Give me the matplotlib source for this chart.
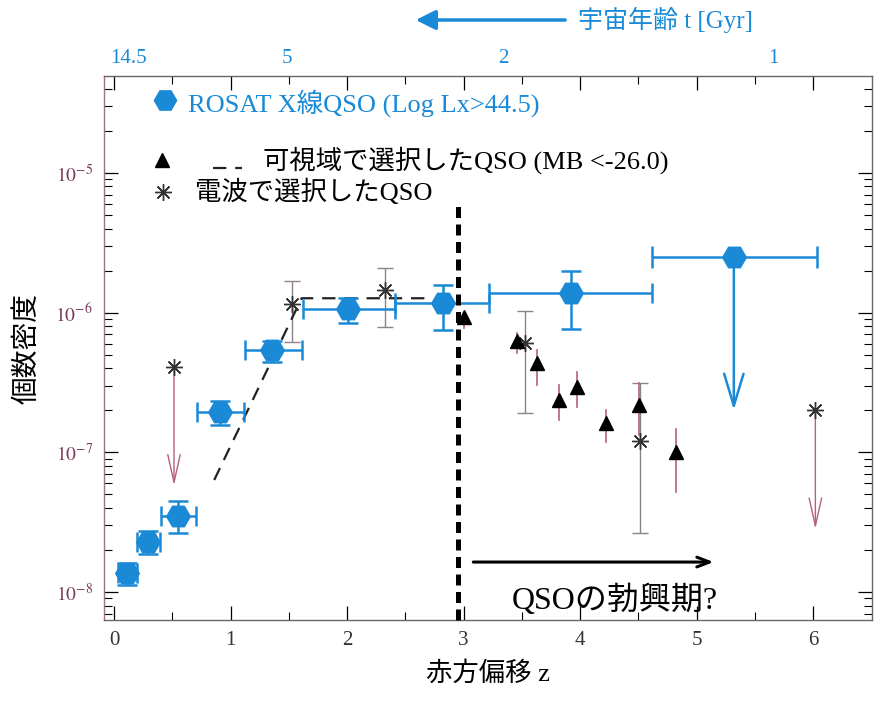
import math
import matplotlib
matplotlib.use("Agg")
import matplotlib.pyplot as plt
from matplotlib.ticker import FixedLocator, LogLocator, NullFormatter, FuncFormatter
import matplotlib.transforms as mtransforms

plt.rcParams['font.family'] = ['Liberation Serif', 'Noto Sans CJK JP', 'DejaVu Sans']
plt.rcParams['mathtext.fontset'] = 'stix'

BLUE = '#1a8ad6'
PINK = '#b5607f'
GREY = '#8c8288'

# ROSAT X-ray QSOs: redshift bins and space densities
x_z = [0.115, 0.295, 0.55, 0.91, 1.36, 2.01, 2.82, 3.92]
x_zlo = [0.035, 0.195, 0.40, 0.71, 1.12, 1.62, 2.41, 3.22]
x_zhi = [0.195, 0.395, 0.70, 1.115, 1.61, 2.41, 3.22, 4.62]
x_n = [1.36e-8, 2.27e-8, 3.52e-8, 1.95e-7, 5.41e-7, 1.06e-6, 1.17e-6, 1.38e-6]
x_nlo = [1.12e-8, 1.86e-8, 2.64e-8, 1.57e-7, 4.46e-7, 8.4e-7, 7.5e-7, 7.6e-7]
x_nhi = [1.62e-8, 2.75e-8, 4.49e-8, 2.34e-7, 6.27e-7, 1.27e-6, 1.58e-6, 2.0e-6]
# highest-redshift X-ray bin (upper limit)
xul_z, xul_zlo, xul_zhi = 5.32, 4.62, 6.03
xul_n, xul_to = 2.52e-6, 1.92e-7

# optically selected QSOs (MB < -26.0)
o_z = [3.00, 3.46, 3.63, 3.82, 3.97, 4.22, 4.51, 4.82]
o_n = [9.3e-7, 6.3e-7, 4.34e-7, 2.37e-7, 2.95e-7, 1.63e-7, 2.19e-7, 1.01e-7]
o_nlo = [7.76e-7, 5.13e-7, 3.03e-7, 1.71e-7, 2.12e-7, 1.18e-7, 1.33e-7, 5.24e-8]
o_nhi = [1.0e-6, 7.16e-7, 5.41e-7, 3.03e-7, 3.79e-7, 2.01e-7, 3.13e-7, 1.46e-7]

# radio selected QSOs
r_z = [1.525, 2.33, 3.53, 4.515]
r_n = [1.153e-6, 1.452e-6, 6.10e-7, 1.213e-7]
r_nlo = [6.19e-7, 7.94e-7, 1.92e-7, 2.64e-8]
r_nhi = [1.69e-6, 2.08e-6, 1.03e-6, 3.13e-7]
# radio upper limits
rul_z = [0.515, 6.02]
rul_n = [4.10e-7, 2.0e-7]
rul_to = [5.53e-8, 2.70e-8]

# optical model (dashed)
m_z = [0.86, 1.61, 2.74]
m_n = [6.34e-8, 1.268e-6, 1.268e-6]

# cosmic age labels on the upper axis
age_z = [0.12, 1.48, 3.34, 5.66]
age_labels = ['14.5', '5', '2', '1']

x_ticks = [0, 1, 2, 3, 4, 5, 6]
y_ticks = [1e-8, 1e-7, 1e-6, 1e-5]

fig = plt.figure(figsize=(8.86, 7.05), dpi=100)
ax = fig.add_axes([104/886, 1-620/705, 768/886, 544/705])
ax.set_yscale('log')
ax.set_xlim(-0.086, 6.506)
ax.set_ylim(10**-8.2, 10**-4.306)

# X-ray points
xerr = [[z - lo for z, lo in zip(x_z, x_zlo)], [hi - z for z, hi in zip(x_z, x_zhi)]]
yerr = [[n - lo for n, lo in zip(x_n, x_nlo)], [hi - n for n, hi in zip(x_n, x_nhi)]]
ax.errorbar(x_z, x_n, xerr=xerr, yerr=yerr, fmt='H', ms=17, color=BLUE,
            ecolor=BLUE, elinewidth=1.8, capsize=7, capthick=1.8, zorder=5)
ax.errorbar([xul_z], [xul_n], xerr=[[xul_z - xul_zlo], [xul_zhi - xul_z]], fmt='H', ms=17,
            color=BLUE, ecolor=BLUE, elinewidth=1.8, capsize=8, capthick=1.8, zorder=5)
ax.annotate('', xy=(xul_z, xul_to), xytext=(xul_z, xul_n),
            arrowprops=dict(arrowstyle='->,head_length=2.3,head_width=0.7', color=BLUE, lw=1.8),
            zorder=4)

# radio points
ryerr = [[n - lo for n, lo in zip(r_n, r_nlo)], [hi - n for n, hi in zip(r_n, r_nhi)]]
ax.errorbar(r_z, r_n, yerr=ryerr, fmt='none', ecolor=GREY, elinewidth=1.0,
            capsize=6, capthick=1.0, zorder=3)
for z, n, to in zip(rul_z, rul_n, rul_to):
    ax.annotate('', xy=(z, to), xytext=(z, n),
                arrowprops=dict(arrowstyle='->,head_length=2.0,head_width=0.45', color=PINK, lw=1.0),
                zorder=3)
ax.plot(r_z + rul_z, r_n + rul_n, ls='none', marker=(8, 2, 0), ms=12, mew=1.0,
        color='#333333', zorder=6)

# optical points
for z, lo, hi in zip(o_z, o_nlo, o_nhi):
    ax.plot([z, z], [lo, hi], color=PINK, lw=1.2, zorder=3)
ax.plot(o_z, o_n, ls='none', marker='^', ms=10, color='black', zorder=7)

# optical model
ax.plot(m_z, m_n, color='#222222', lw=1.6, dashes=(6, 4), zorder=4)

# boundary line
ax.plot([2.95, 2.95], [10**-8.2, 10**-5.23], color='black', lw=3.6, dashes=(2.2, 1.3),
        solid_capstyle='butt', dash_capstyle='butt', zorder=8, clip_on=False)

# epoch arrow
ax.annotate('', xy=(5.17, 1.64e-8), xytext=(3.06, 1.64e-8),
            arrowprops=dict(arrowstyle='->,head_length=0.9,head_width=0.35', color='black', lw=2.2))
ax.text(4.3, 8.8e-9, 'QSOの勃興期?', fontsize=23, ha='center', va='center', color='black')

# ticks
ax.xaxis.set_major_locator(FixedLocator(x_ticks))
ax.xaxis.set_minor_locator(FixedLocator([0.5, 1.5, 2.5, 3.5, 4.5, 5.5]))
ax.yaxis.set_major_locator(FixedLocator(y_ticks))
ax.yaxis.set_minor_locator(LogLocator(base=10, subs=range(2, 10)))
ax.yaxis.set_minor_formatter(NullFormatter())
ax.yaxis.set_major_formatter(FuncFormatter(lambda v, p: r'$10^{%d}$' % round(math.log10(v))))
ax.tick_params(axis='both', which='both', direction='in', top=True, right=True)
ax.tick_params(axis='both', which='major', length=10, width=0.9)
ax.tick_params(axis='both', which='minor', length=6, width=0.8)
ax.tick_params(axis='x', labelsize=15, labelcolor='#333333', pad=8)
ax.tick_params(axis='y', labelsize=14, labelcolor='#7a3a5a', pad=8)
for s in ax.spines.values():
    s.set_color('#666666')
    s.set_linewidth(1.0)
ax.spines['left'].set_color('#a0708a')

ax.set_xlabel('赤方偏移 z', fontsize=19, labelpad=8)
ax.set_ylabel('個数密度', fontsize=20, va='center')
ax.yaxis.set_label_coords(-0.100, 0.50)

# upper age axis labels
trans = mtransforms.blended_transform_factory(ax.transData, ax.transAxes)
for z, lab in zip(age_z, age_labels):
    ax.text(z, 1.033, lab, transform=trans, ha='center', va='center', fontsize=15,
            color=BLUE, clip_on=False)
fig.text(578/886, 1-20/705, '宇宙年齢 t [Gyr]', fontsize=18, color=BLUE, ha='left', va='center')
fig.patches.append(matplotlib.patches.FancyArrowPatch(
    (568/886, 1-20/705), (413/886, 1-20/705), transform=fig.transFigure,
    arrowstyle='-|>,head_length=12,head_width=6', color=BLUE, lw=2.5, mutation_scale=1))

# key
def ax_xy(px, py):
    return (px - 104) / 768, (620 - py) / 544

kx, ky = ax_xy(165, 100)
ax.plot([kx], [ky], marker='H', ms=16, color=BLUE, transform=ax.transAxes, clip_on=False)
tx, ty = ax_xy(188, 103)
ax.text(tx, ty, 'ROSAT X線QSO (Log Lx>44.5)', transform=ax.transAxes, fontsize=19,
        color=BLUE, va='center', ha='left')
kx, ky = ax_xy(162, 160)
ax.plot([kx], [ky], marker='^', ms=10, color='black', transform=ax.transAxes, clip_on=False)
x0, yy = ax_xy(213, 168)
x1, _ = ax_xy(242, 168)
ax.plot([x0, x1], [yy, yy], color='#222222', lw=1.6, dashes=(6, 4), transform=ax.transAxes)
tx, ty = ax_xy(263, 160)
ax.text(tx, ty, '可視域で選択したQSO (MB <-26.0)', transform=ax.transAxes, fontsize=19,
        color='black', va='center', ha='left')
kx, ky = ax_xy(163, 192)
ax.plot([kx], [ky], marker=(8, 2, 0), ms=12, mew=1.0, color='#333333', transform=ax.transAxes)
tx, ty = ax_xy(195, 192)
ax.text(tx, ty, '電波で選択したQSO', transform=ax.transAxes, fontsize=19,
        color='black', va='center', ha='left')

fig.savefig('out.png', dpi=100, facecolor='white')
